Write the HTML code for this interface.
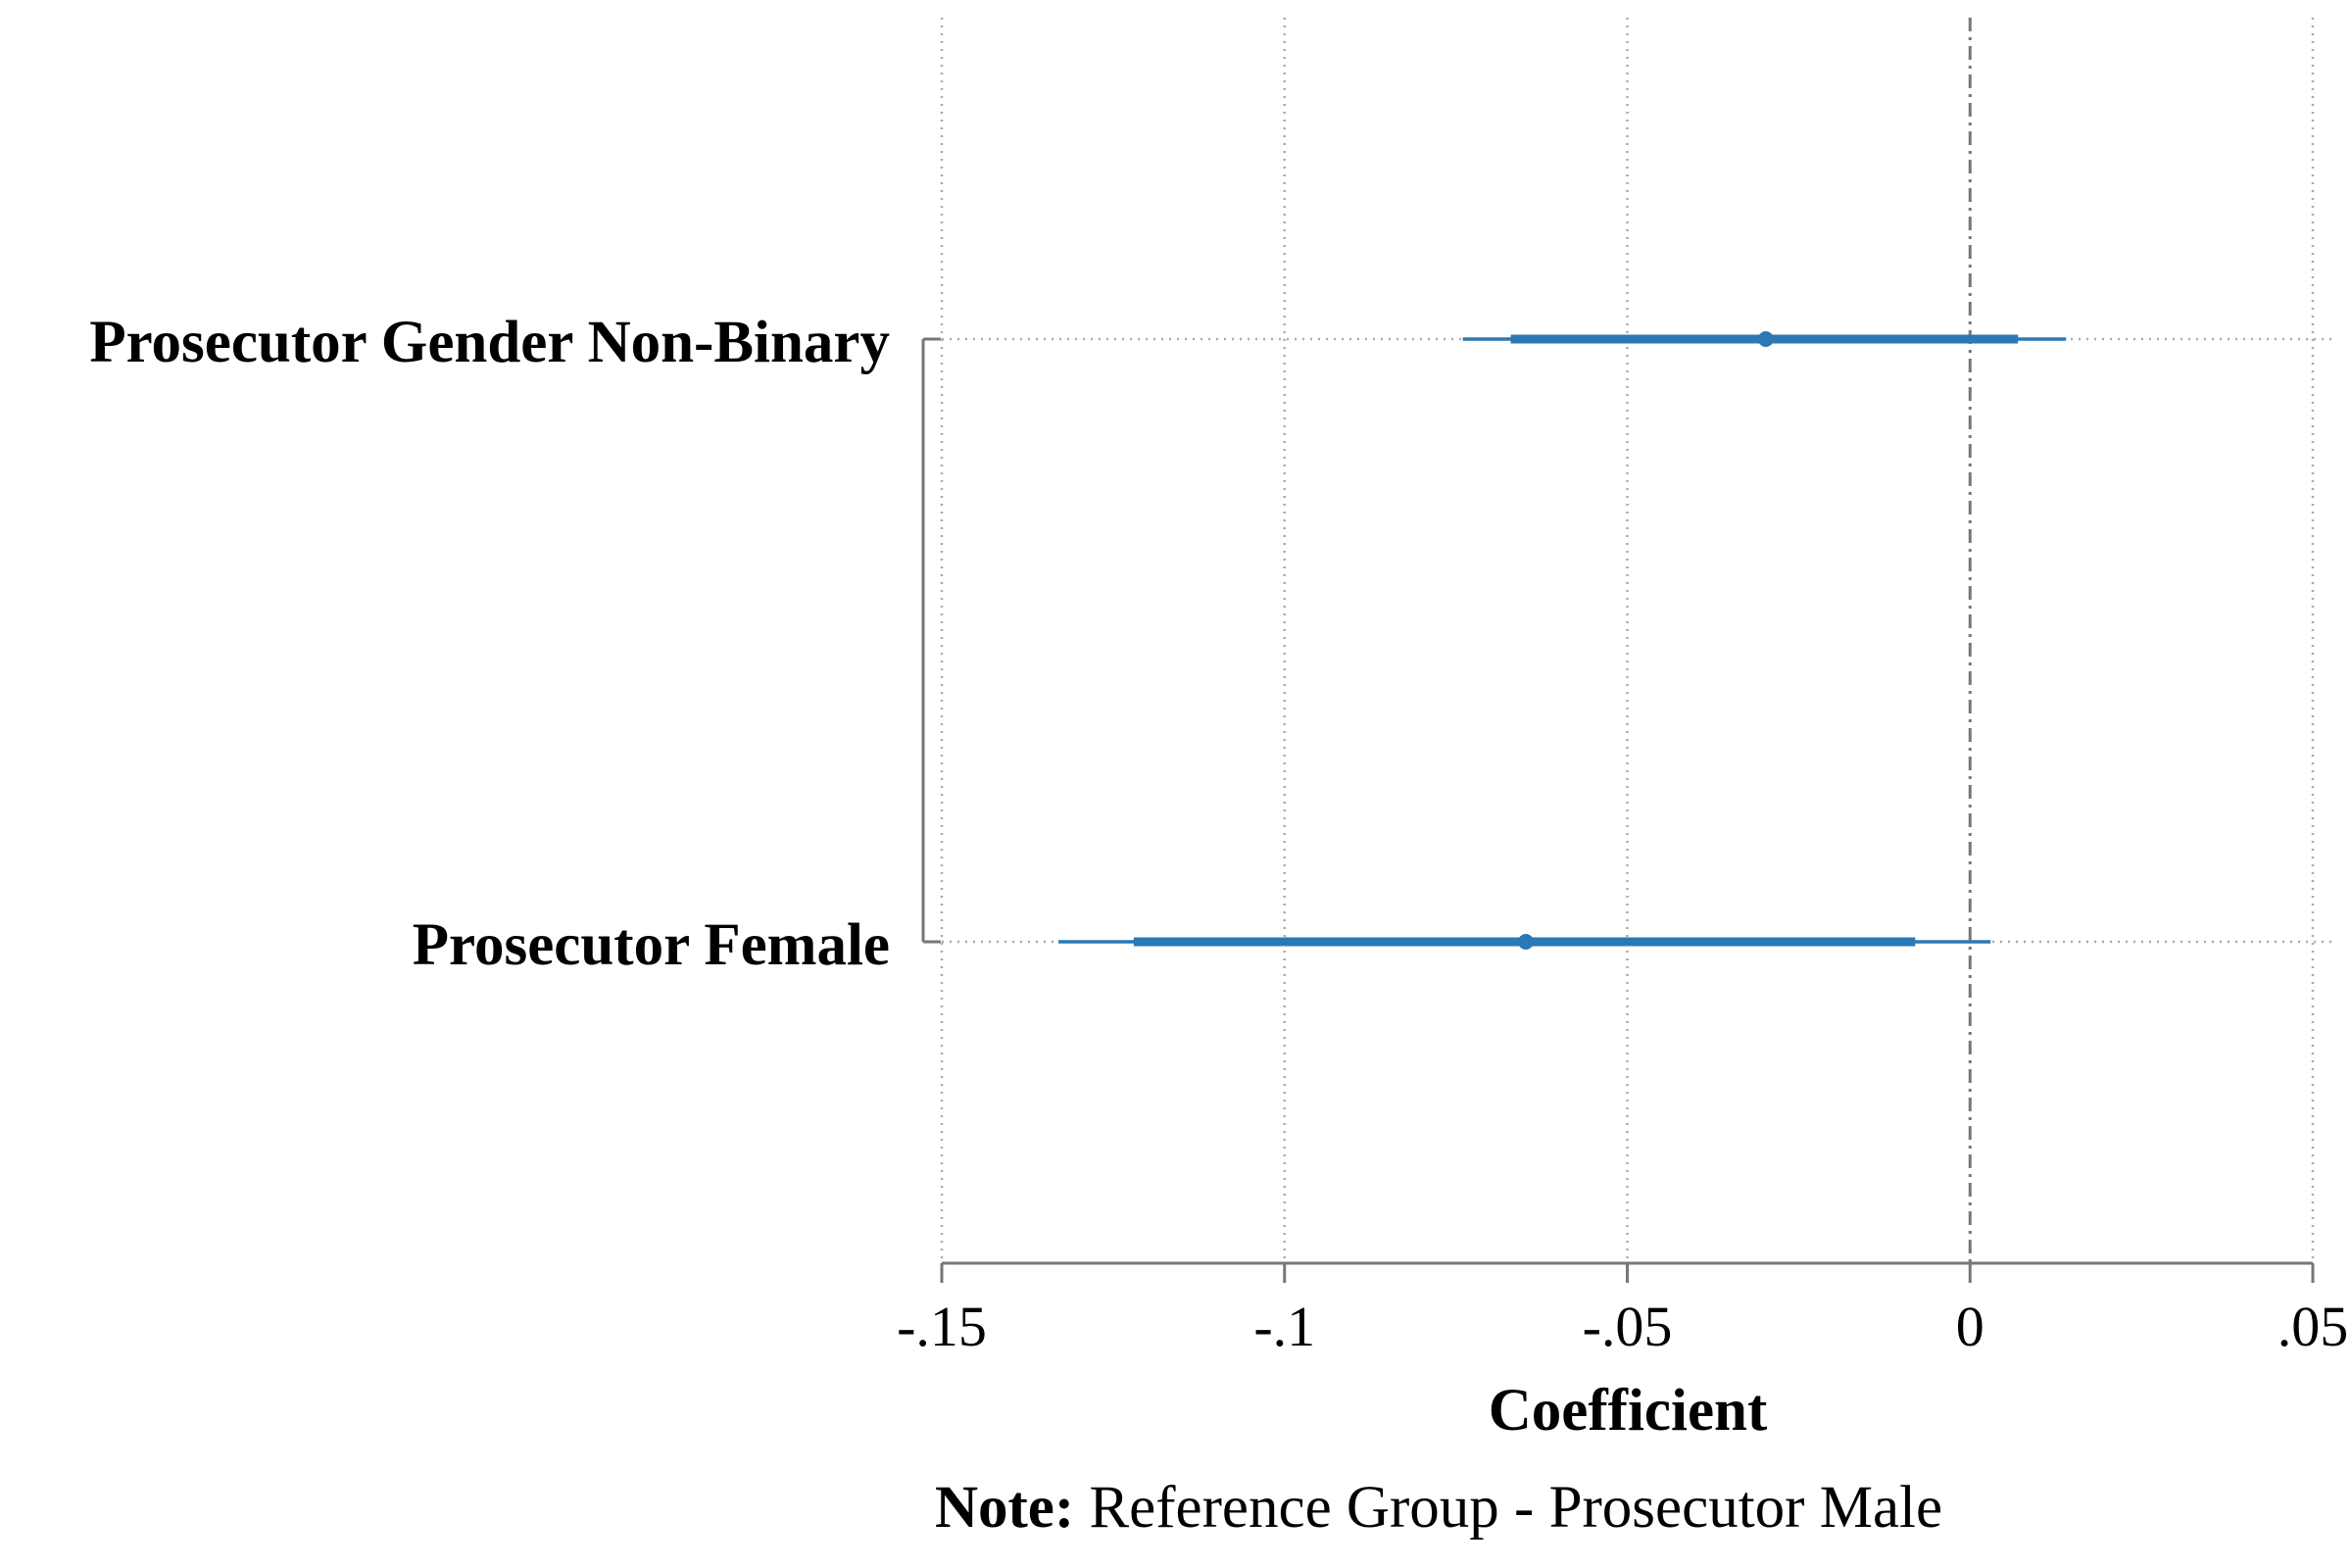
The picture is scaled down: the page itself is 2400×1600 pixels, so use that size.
<!DOCTYPE html>
<html><head><meta charset="utf-8"><style>
html,body{margin:0;padding:0;background:#fff;}
svg{display:block;font-family:"Liberation Serif",serif;}
</style></head><body>
<svg id="chart" width="2400" height="1600" viewBox="0 0 2400 1600">
<g id="grid"></g>
<g id="axes"></g>
<g id="marks"></g>
<text x="1661" y="1459" font-size="61" font-weight="bold" text-anchor="middle">Coefficient</text>
<text x="1468" y="1558" font-size="61" text-anchor="middle"><tspan font-weight="bold">Note:</tspan> Reference Group - Prosecutor Male</text>
</svg>
<script>
const categories = ["Prosecutor Gender Non-Binary", "Prosecutor Female"];
const estimates = [-0.0298, -0.0648];
const ci95Low = [-0.074, -0.133];
const ci95High = [0.014, 0.003];
const ci90Low = [-0.067, -0.122];
const ci90High = [0.007, -0.008];
const xTicks = [-0.15, -0.1, -0.05, 0, 0.05];
const xTickLabels = ["-.15", "-.1", "-.05", "0", ".05"];

const NS = "http://www.w3.org/2000/svg";
const x0 = 961, x1 = 2360, v0 = -0.15, v1 = 0.05;
function xs(v){ return x0 + (v - v0) / (v1 - v0) * (x1 - x0); }
const rowY = [346, 961];
function ys(i){ return rowY[0] + i * (rowY[1] - rowY[0]) / (categories.length - 1); }
function mk(tag, attrs, parent){ const e = document.createElementNS(NS, tag); for (const k in attrs) e.setAttribute(k, attrs[k]); parent.appendChild(e); return e; }
const grid = document.getElementById('grid'), axes = document.getElementById('axes'), marks = document.getElementById('marks');
const axisY = 1289;

xTicks.forEach((t, i) => {
  const x = xs(t);
  if (t !== 0) {
    const g = mk('line', {x1: x, x2: x, y1: 18, y2: axisY, stroke: '#aaa', 'stroke-width': 2.5, 'stroke-dasharray': '2 6'}, grid);
    
    
  }
  const tk = mk('line', {x1: x, x2: x, y1: axisY, y2: axisY + 20, stroke: '#777', 'stroke-width': 3}, axes);
  
  
  const lb = mk('text', {x: x, y: axisY + 84, 'font-size': 58, 'text-anchor': 'middle'}, axes);
  lb.textContent = xTickLabels[i];
  
  
});
const zl = mk('line', {x1: xs(0), x2: xs(0), y1: 18, y2: axisY, stroke: '#777', 'stroke-width': 3, 'stroke-dasharray': '14 6 3 6'}, grid);



const xa = mk('line', {x1: x0, x2: x1, y1: axisY, y2: axisY, stroke: '#777', 'stroke-width': 3}, axes);


const ya = mk('line', {x1: 942, x2: 942, y1: ys(0), y2: ys(categories.length - 1), stroke: '#777', 'stroke-width': 3}, axes);



categories.forEach((c, i) => {
  const y = ys(i);
  const h = mk('line', {x1: x0, x2: 2382, y1: y, y2: y, stroke: '#aaa', 'stroke-width': 2.5, 'stroke-dasharray': '2 6'}, grid);
  
  
  const tk = mk('line', {x1: 942, x2: 960, y1: y, y2: y, stroke: '#777', 'stroke-width': 3}, axes);
  
  
  const lb = mk('text', {x: 908, y: y + 23, 'font-size': 61, 'font-weight': 'bold', 'text-anchor': 'end'}, axes);
  lb.textContent = c;
  
  
  const thin = mk('line', {x1: xs(ci95Low[i]), x2: xs(ci95High[i]), y1: y, y2: y, stroke: '#2a78b5', 'stroke-width': 3.5}, marks);
  
  
  const thick = mk('line', {x1: xs(ci90Low[i]), x2: xs(ci90High[i]), y1: y, y2: y, stroke: '#2a78b5', 'stroke-width': 9}, marks);
  
  
  const pt = mk('circle', {cx: xs(estimates[i]), cy: y, r: 8, fill: '#2a78b5'}, marks);
  
  
});
</script>
</body></html>
